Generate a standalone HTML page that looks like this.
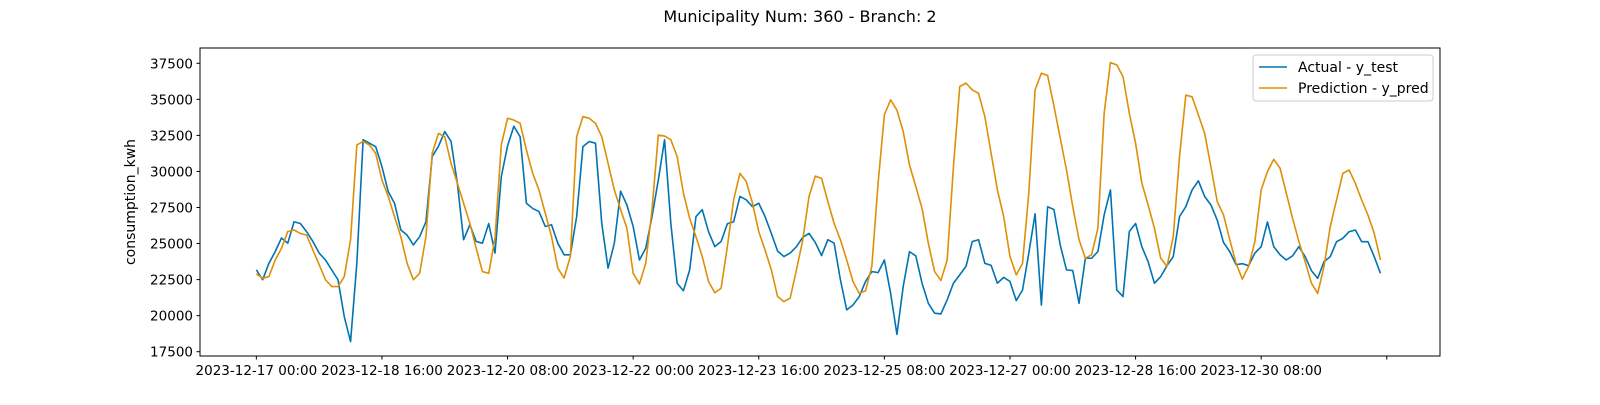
<!DOCTYPE html>
<html><head><meta charset="utf-8"><style>
html,body{margin:0;padding:0;background:#fff;}
svg text{font-family:"DejaVu Sans","Liberation Sans",sans-serif;fill:#000;}
</style></head><body>
<svg id="chart" width="1600" height="400" viewBox="0 0 1600 400" xmlns="http://www.w3.org/2000/svg">
<rect width="1600" height="400" fill="#fff"/>
<text x="800" y="22" text-anchor="middle" font-size="16">Municipality Num: 360 - Branch: 2</text>
<text transform="translate(135,202) rotate(-90)" text-anchor="middle" font-size="14">consumption_kwh</text>
<g id="ticks"></g>
<g id="series"></g>
<rect x="200" y="48" width="1240" height="308" fill="none" stroke="#000" stroke-width="1"/>
<g>
<rect x="1253" y="55" width="180" height="46" rx="3" fill="#fff" fill-opacity="0.8" stroke="#ccc"/>
<line x1="1259" y1="67" x2="1287" y2="67" stroke="#0173B2" stroke-width="1.5"/>
<text x="1298" y="72" font-size="14">Actual - y_test</text>
<line x1="1259" y1="88" x2="1287" y2="88" stroke="#DE8F05" stroke-width="1.5"/>
<text x="1298" y="93" font-size="14">Prediction - y_pred</text>
</g>
</svg>
<script>
const hours = [];
for (let h = 0; h <= 358; h += 2) hours.push(h);
const actual = [23175,22490,23630,24440,25385,25025,26510,26390,25825,25145,24340,23860,23175,22490,19930,18200,23630,32200,31960,31720,30325,28600,27795,25945,25585,24905,25475,26510,31035,31750,
32765,32080,29190,25265,26305,25145,25025,26390,24340,29640,31770,33135,32405,27795,27435,27220,26185,26305,25025,24220,24220,26870,31720,32080,31960,26390,23295,25025,28630,27675,
26185,23860,24675,26870,29400,32200,26390,22250,21730,23175,26870,27350,25825,24785,25145,26375,26510,28265,28035,27555,27795,26870,25705,24475,24100,24340,24785,25435,25705,25075,
24170,25265,25025,22490,20400,20735,21325,22370,23055,22985,23860,21540,18700,22020,24440,24150,22250,20855,20170,20120,21095,22250,22825,23415,25145,25265,23630,23485,22250,22655,
22370,21045,21780,24340,27060,20735,27555,27350,24905,23175,23125,20855,23980,23980,24440,26990,28720,21780,21325,25825,26390,24785,23740,22250,22705,23465,24100,26870,27555,28720,
29350,28265,27675,26630,25075,24440,23535,23605,23465,24340,24785,26500,24785,24220,23860,24150,24785,24100,23125,22585,23740,24090,25130,25360,25820,25940,25130,25130,24090,22930];
const predicted = [22900,22590,22710,23860,24675,25825,25945,25705,25585,24555,23535,22490,22020,22020,22705,25265,31840,32080,31840,31260,29400,28265,26870,25475,23630,22490,22935,25475,31260,32645,
32405,30565,29190,27795,26390,24675,23055,22935,25385,31840,33685,33565,33335,31490,29870,28720,27110,25475,23295,22610,24100,32405,33805,33685,33335,32405,30565,28720,27355,26065,
22935,22200,23630,27350,32525,32455,32200,31035,28505,26750,25475,24100,22370,21590,21900,24785,28035,29870,29310,27795,25825,24555,23175,21325,20975,21215,23175,25235,28265,29680,
29520,27915,26390,25265,23860,22370,21540,21730,23415,29190,33925,34970,34250,32765,30445,28960,27435,25025,23055,22440,23860,30325,35885,36125,35655,35415,33805,31260,28720,26870,
24100,22825,23630,28505,35655,36810,36650,34540,32320,30110,27555,25265,23980,24220,26065,34045,37550,37390,36575,34045,31960,29190,27675,26065,23980,23415,25475,31035,35295,35175,
33925,32645,30325,27915,26990,25265,23630,22540,23415,25145,28720,29990,30840,30230,28505,26750,25145,23750,22250,21540,23400,26170,28020,29870,30100,29170,28020,26980,25710,23860];
const yTicks = [17500,20000,22500,25000,27500,30000,32500,35000,37500];
const xTickHours = [0,40,80,120,160,200,240,280,320,360];
const xTickLabels = ["2023-12-17 00:00","2023-12-18 16:00","2023-12-20 08:00","2023-12-22 00:00","2023-12-23 16:00","2023-12-25 08:00","2023-12-27 00:00","2023-12-28 16:00","2023-12-30 08:00",""];

const NS = "http://www.w3.org/2000/svg";
const X0 = 200, X1 = 1440, Y0 = 48, Y1 = 356;
const xMin = -17.95, xMax = 376.95, yMin = 17202, yMax = 38561;
function xs(h){ return X0 + (h - xMin) / (xMax - xMin) * (X1 - X0); }
function ys(v){ return Y1 - (v - yMin) / (yMax - yMin) * (Y1 - Y0); }

const tg = document.getElementById('ticks');
yTicks.forEach(function(v){
  const y = ys(v);
  const l = document.createElementNS(NS,'line');
  l.setAttribute('x1', X0 - 3.5); l.setAttribute('x2', X0); l.setAttribute('y1', y); l.setAttribute('y2', y);
  l.setAttribute('stroke', '#000');
  
  
  tg.appendChild(l);
  const t = document.createElementNS(NS,'text');
  t.setAttribute('x', X0 - 7); t.setAttribute('y', y + 5);
  t.setAttribute('text-anchor', 'end'); t.setAttribute('font-size', '13.5');
  t.textContent = String(v);
  
  
  tg.appendChild(t);
});
xTickHours.forEach(function(h, i){
  const x = xs(h);
  const l = document.createElementNS(NS,'line');
  l.setAttribute('x1', x); l.setAttribute('x2', x); l.setAttribute('y1', Y1); l.setAttribute('y2', Y1 + 3.5);
  l.setAttribute('stroke', '#000');
  
  
  tg.appendChild(l);
  const t = document.createElementNS(NS,'text');
  t.setAttribute('x', x); t.setAttribute('y', Y1 + 19);
  t.setAttribute('text-anchor', 'middle'); t.setAttribute('font-size', '13.5');
  t.textContent = xTickLabels[i];
  
  
  tg.appendChild(t);
});

const sg = document.getElementById('series');
function drawLine(vals, color, name){
  const pts = vals.map(function(v, i){ return xs(hours[i]).toFixed(2) + ',' + ys(v).toFixed(2); }).join(' ');
  const p = document.createElementNS(NS,'polyline');
  p.setAttribute('points', pts);
  p.setAttribute('fill', 'none');
  p.setAttribute('stroke', color);
  p.setAttribute('stroke-width', '1.6');
  p.setAttribute('stroke-linejoin', 'round');
  
  
  sg.appendChild(p);
}
drawLine(actual, '#0173B2', 'actual-line');
drawLine(predicted, '#DE8F05', 'prediction-line');
</script>
</body></html>
